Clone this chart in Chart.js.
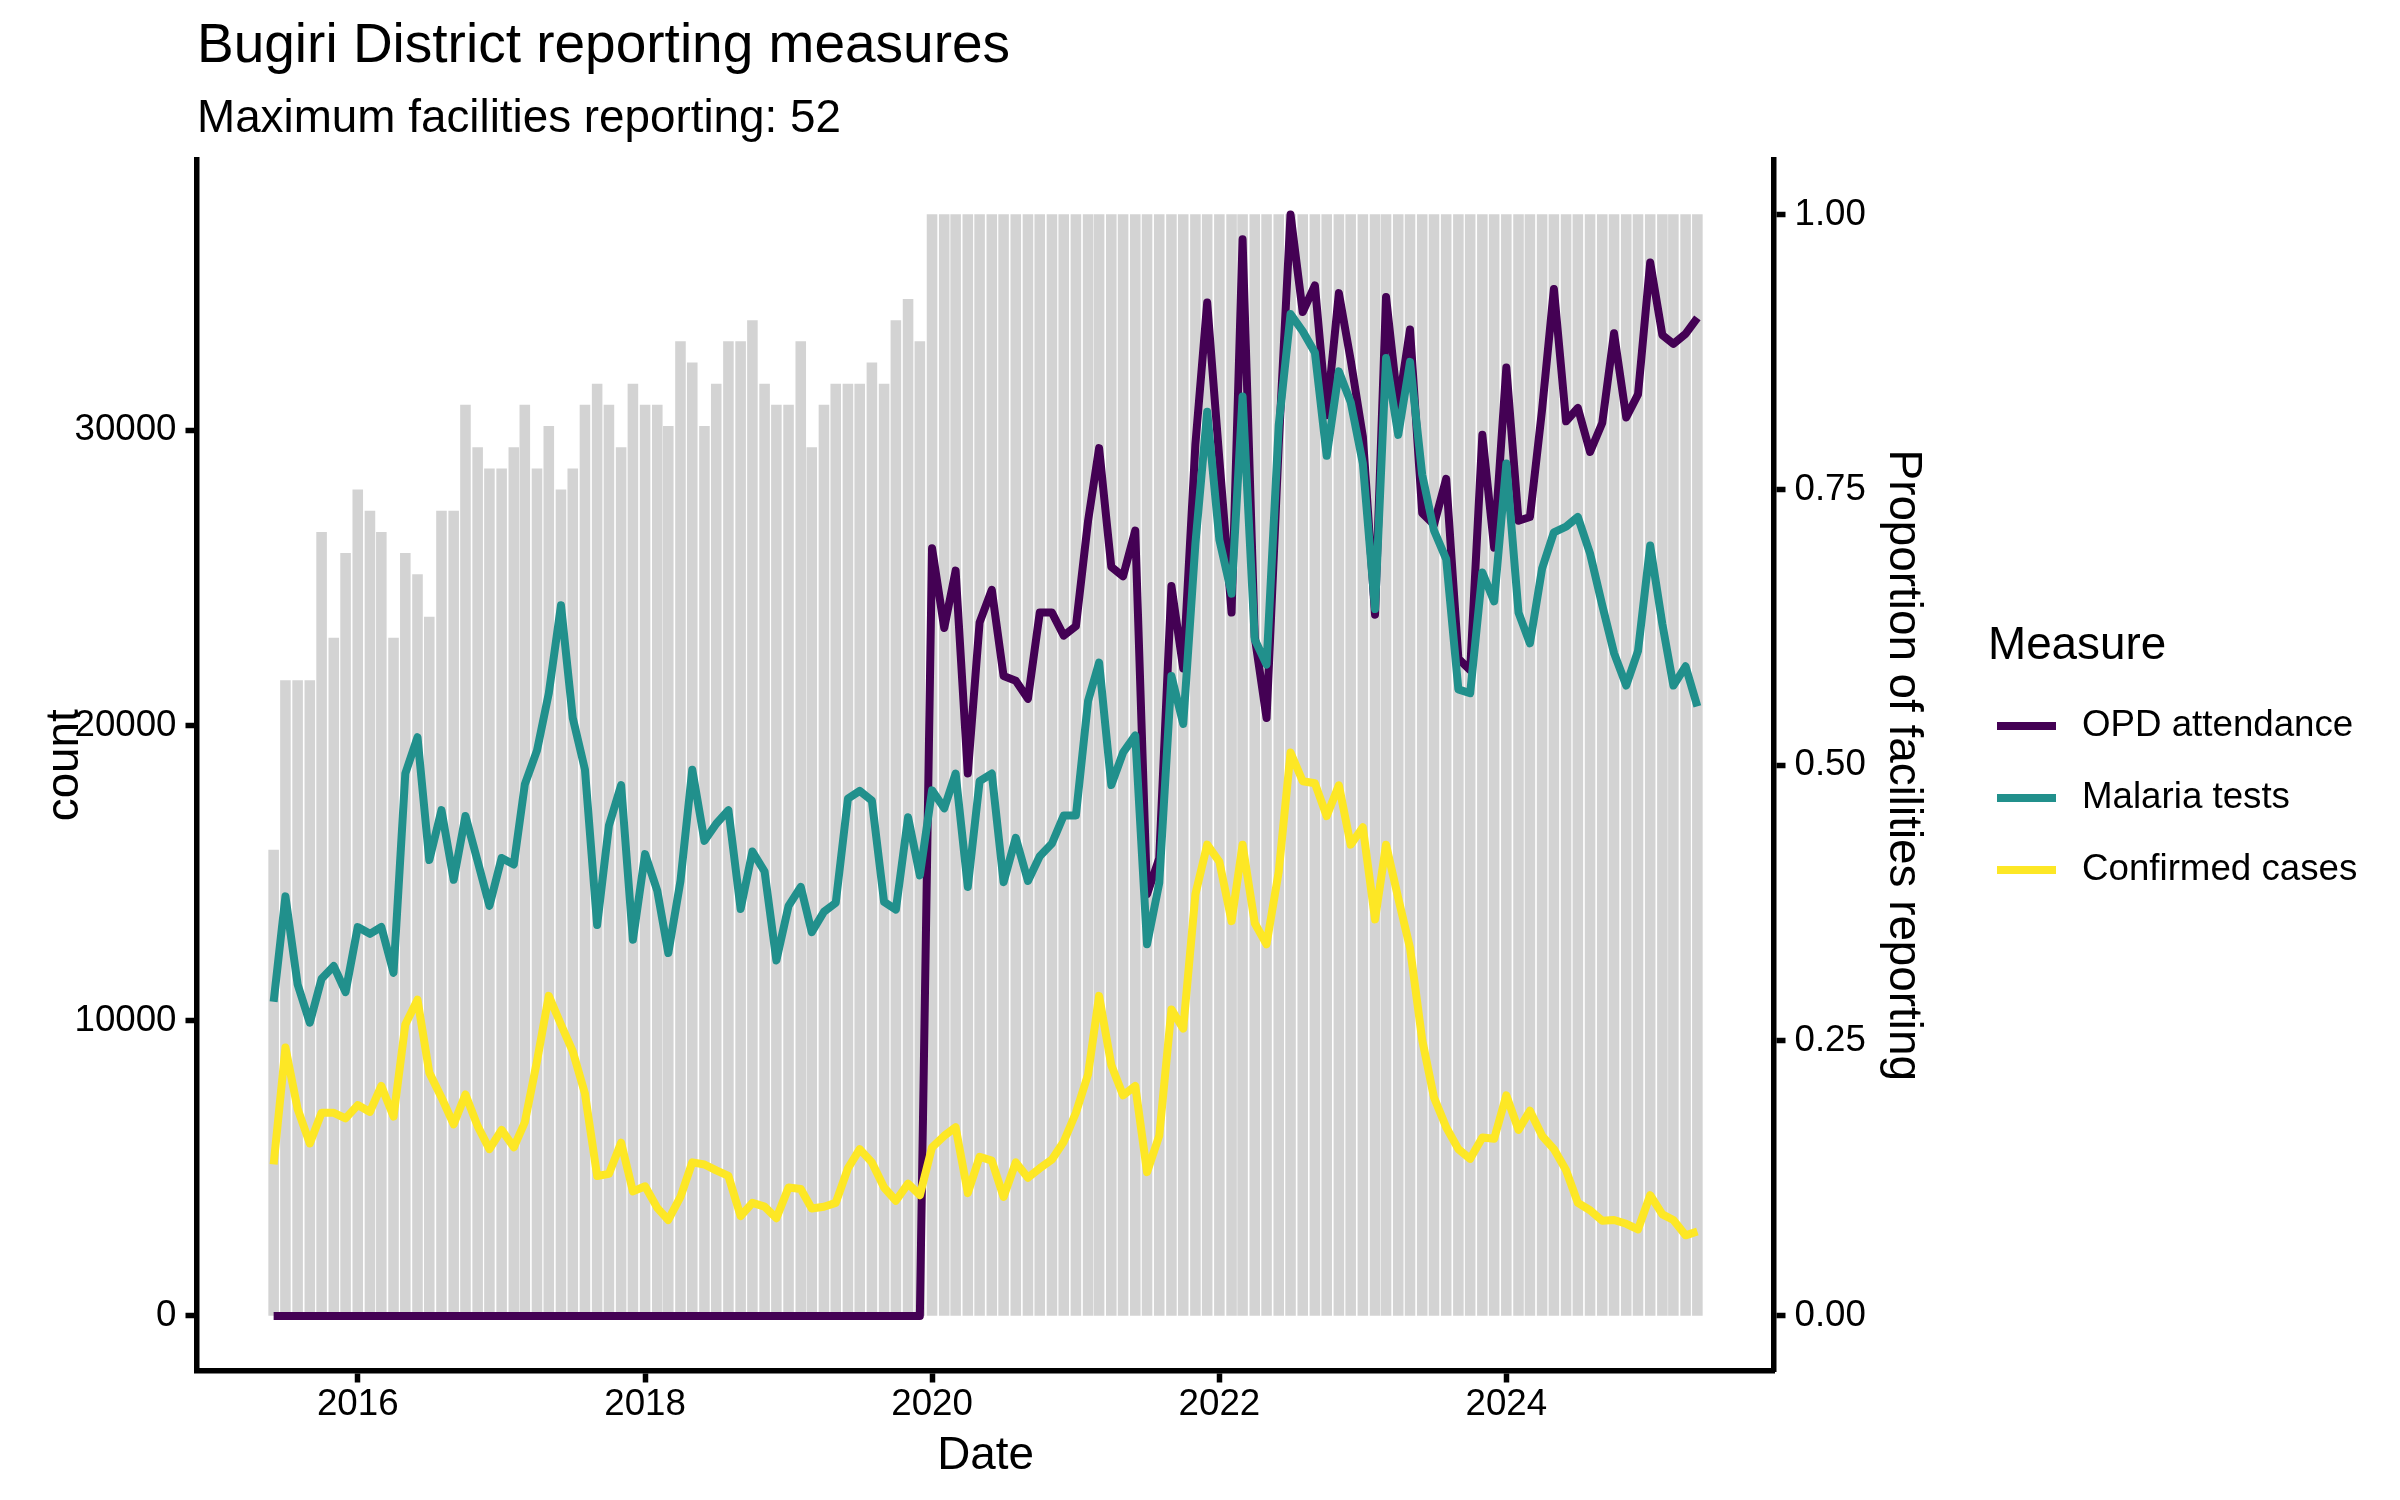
<!DOCTYPE html>
<html>
<head>
<meta charset="utf-8">
<title>Bugiri District reporting measures</title>
<script src="https://cdn.jsdelivr.net/npm/chart.js@4.4.1/dist/chart.umd.min.js"></script>
<style>
html,body{margin:0;padding:0;background:#fff;overflow:hidden}
#wrap{width:2400px;height:1500px;position:relative}
</style>
</head>
<body>
<div id="wrap"><canvas id="measure_chart"></canvas></div>
<script>
// monthly reporting, Jun 2015 - May 2025
const months = [
  '2015-06','2015-07','2015-08','2015-09','2015-10','2015-11','2015-12',
  '2016-01','2016-02','2016-03','2016-04','2016-05','2016-06','2016-07','2016-08','2016-09','2016-10','2016-11','2016-12',
  '2017-01','2017-02','2017-03','2017-04','2017-05','2017-06','2017-07','2017-08','2017-09','2017-10','2017-11','2017-12',
  '2018-01','2018-02','2018-03','2018-04','2018-05','2018-06','2018-07','2018-08','2018-09','2018-10','2018-11','2018-12',
  '2019-01','2019-02','2019-03','2019-04','2019-05','2019-06','2019-07','2019-08','2019-09','2019-10','2019-11','2019-12',
  '2020-01','2020-02','2020-03','2020-04','2020-05','2020-06','2020-07','2020-08','2020-09','2020-10','2020-11','2020-12',
  '2021-01','2021-02','2021-03','2021-04','2021-05','2021-06','2021-07','2021-08','2021-09','2021-10','2021-11','2021-12',
  '2022-01','2022-02','2022-03','2022-04','2022-05','2022-06','2022-07','2022-08','2022-09','2022-10','2022-11','2022-12',
  '2023-01','2023-02','2023-03','2023-04','2023-05','2023-06','2023-07','2023-08','2023-09','2023-10','2023-11','2023-12',
  '2024-01','2024-02','2024-03','2024-04','2024-05','2024-06','2024-07','2024-08','2024-09','2024-10','2024-11','2024-12',
  '2025-01','2025-02','2025-03','2025-04','2025-05'
];
const maxFacilities = 52;
const facilitiesReporting = [
  22,30,30,30,37,32,36,39,38,37,
  32,36,35,33,38,38,43,41,40,40,
  41,43,40,42,39,40,43,44,43,41,
  44,43,43,42,46,45,42,44,46,46,
  47,44,43,43,46,41,43,44,44,44,
  45,44,47,48,46,
  52,52,52,52,52,52,52,52,52,52,
  52,52,52,52,52,52,52,52,52,52,
  52,52,52,52,52,52,52,52,52,52,
  52,52,52,52,52,52,52,52,52,52,
  52,52,52,52,52,52,52,52,52,52,
  52,52,52,52,52,52,52,52,52,52,
  52,52,52,52,52
];
const opdAttendance = [
  0,0,0,0,0,0,0,0,0,0,
  0,0,0,0,0,0,0,0,0,0,
  0,0,0,0,0,0,0,0,0,0,
  0,0,0,0,0,0,0,0,0,0,
  0,0,0,0,0,0,0,0,0,0,
  0,0,0,0,0,
  26000,23300,25240,18370,23490,24590,21670,21510,20900,23820,
  23820,23040,23360,26930,29390,25370,25050,26600,14280,15500,
  24720,21930,29520,34320,29000,23820,36460,23000,20250,29500,
  37300,34000,34900,30500,34640,32380,29780,23750,34510,30750,
  33410,27190,26800,28350,22260,21870,29840,26020,32120,26930,
  27060,30700,34780,30300,30750,29260,30240,33280,30430,31210,
  35680,33220,32920,33260,33800
];
const malariaTests = [
  10640,14210,11230,9930,11420,11850,10970,13170,12940,13170,
  11620,18370,19600,15440,17130,14770,16930,15400,13890,15510,
  15290,18000,19150,21090,24070,20250,18500,13240,16610,17980,
  12740,15640,14400,12290,14730,18500,16090,16670,17130,13780,
  15730,15050,12040,13890,14530,13000,13690,13990,17520,17780,
  17450,14020,13760,16890,14920,17800,17190,18370,14530,18110,
  18370,14690,16190,14730,15570,16000,16950,16950,20830,22130,
  17980,19080,19660,12590,14660,21670,20050,26150,30620,26280,
  24460,31140,22910,22060,30170,33930,33350,32630,29130,31990,
  30950,28870,23940,32440,29840,32310,28490,26600,25630,21220,
  21090,25180,24200,28870,23820,22780,25310,26540,26730,27060,
  25820,24070,22450,21350,22520,26090,23430,21350,22000,20640
];
const confirmedCases = [
  5130,9090,7010,5840,6880,6880,6690,7140,6910,7790,
  6750,9870,10710,8240,7400,6490,7500,6430,5650,6300,
  5710,6560,8630,10840,9870,8960,7530,4740,4810,5870,
  4220,4390,3660,3250,4030,5200,5130,4930,4740,3380,
  3830,3700,3310,4350,4300,3640,3700,3830,5000,5650,
  5200,4350,3900,4480,4090,5710,6100,6390,4160,5390,
  5260,4030,5200,4680,5000,5300,5900,6880,8180,10840,
  8500,7470,7790,4870,6100,10380,9730,14280,15960,15380,
  13370,15960,13300,12590,15050,19080,18110,18040,16930,17970,
  15960,16550,13430,15960,14150,12460,9350,7400,6390,5650,
  5320,6040,6000,7470,6300,6950,6100,5650,4930,3830,
  3580,3220,3250,3120,2930,4090,3440,3250,2730,2860
];
const yearTicks = [2016, 2018, 2020, 2022, 2024];
const countTicks = [0, 10000, 20000, 30000];
const propTicks = [0, 0.25, 0.5, 0.75, 1];

const FONT = "'Liberation Sans', Arial, Helvetica, sans-serif";
const DAY = 86400000;
const toMs = (m) => {
  const [y, mo] = m.split('-').map(Number);
  return Date.UTC(y, mo - 1, 1);
};
const xs = months.map(toMs);

// axis limits like ggplot: bar half width + 5% expansion
const halfBar = 0.45 * 28 * DAY;
const xLo = xs[0] - halfBar;
const xHi = xs[xs.length - 1] + halfBar;
const xPad = 0.05 * (xHi - xLo);
const countMax = Math.max(...opdAttendance, ...malariaTests, ...confirmedCases);

// legend key: short line on the left of a wider transparent canvas
const keyLine = (color) => {
  const c = document.createElement('canvas');
  c.width = 93;
  c.height = 8;
  const g = c.getContext('2d');
  g.fillStyle = color;
  g.fillRect(0, 0, 59, c.height);
  return c;
};

const lineSet = (label, values, color, order) => ({
  type: 'line',
  label: label,
  data: values.map((v, i) => ({x: xs[i], y: v})),
  yAxisID: 'y',
  borderColor: color,
  backgroundColor: color,
  borderWidth: 8,
  borderJoinStyle: 'round',
  pointRadius: 0,
  pointHoverRadius: 0,
  pointStyle: keyLine(color),
  tension: 0,
  fill: false,
  order: order
});

const axisGrid = {display: true, drawOnChartArea: false, drawTicks: true, tickLength: 11.5, tickWidth: 5.5, tickColor: '#000', offset: false};
const axisBorder = {display: true, color: '#000', width: 5.5};
const tickFont = {family: FONT, size: 36.7, lineHeight: 1};
const titleFont = {family: FONT, size: 45.8, lineHeight: 1};

Chart.defaults.font.family = FONT;
Chart.defaults.color = '#000';

const ctx = document.getElementById('measure_chart').getContext('2d');
const measure_chart = new Chart(ctx, {
  type: 'bar',
  data: {
    datasets: [
      {
        type: 'bar',
        label: 'Facilities reporting',
        data: facilitiesReporting.map((n, i) => ({x: xs[i], y: n / maxFacilities})),
        yAxisID: 'y1',
        backgroundColor: '#d3d3d3',
        borderWidth: 0,
        barThickness: 9.9,
        order: 4
      },
      lineSet('OPD attendance', opdAttendance, '#440154', 3),
      lineSet('Malaria tests', malariaTests, '#21908c', 2),
      lineSet('Confirmed cases', confirmedCases, '#fde725', 1)
    ]
  },
  options: {
    responsive: true,
    maintainAspectRatio: false,
    devicePixelRatio: 1,
    animation: false,
    events: [],
    layout: {padding: {left: 0, top: 0, right: 40, bottom: 0}},
    scales: {
      x: {
        type: 'linear',
        position: 'bottom',
        offset: false,
        min: xLo - xPad,
        max: xHi + xPad,
        afterBuildTicks: (s) => { s.ticks = yearTicks.map(y => ({value: Date.UTC(y, 0, 1)})); },
        afterFit: (s) => { s.height = 129; },
        ticks: {
          autoSkip: false, maxRotation: 0, padding: 4, font: tickFont, color: '#000',
          callback: (v) => String(new Date(v).getUTCFullYear())
        },
        grid: axisGrid,
        border: axisBorder,
        title: {display: true, text: 'Date', font: titleFont, color: '#000', padding: {top: 0, bottom: 21}}
      },
      y: {
        type: 'linear',
        position: 'left',
        min: -0.05 * countMax,
        max: 1.05 * countMax,
        afterBuildTicks: (s) => { s.ticks = countTicks.map(v => ({value: v})); },
        afterFit: (s) => { s.width = 197; },
        ticks: {padding: 9, font: tickFont, color: '#000', callback: (v) => String(v)},
        grid: axisGrid,
        border: axisBorder,
        title: {display: true, text: 'count', font: titleFont, color: '#000', padding: {top: 42, bottom: 0}}
      },
      y1: {
        type: 'linear',
        position: 'right',
        min: -0.05,
        max: 1.05,
        afterBuildTicks: (s) => { s.ticks = propTicks.map(v => ({value: v})); },
        afterFit: (s) => { s.width = 214; },
        ticks: {padding: 9, font: tickFont, color: '#000', callback: (v) => Number(v).toFixed(2)},
        grid: axisGrid,
        border: axisBorder,
        title: {display: true, text: 'Proportion of facilities reporting', font: titleFont, color: '#000', padding: {top: 62.1, bottom: 0}}
      }
    },
    plugins: {
      title: {
        display: true,
        text: 'Bugiri District reporting measures',
        align: 'start',
        fullSize: false,
        color: '#000',
        font: {family: FONT, size: 55, weight: 'normal', lineHeight: 1},
        padding: {top: 19.5, bottom: 0}
      },
      subtitle: {
        display: true,
        text: 'Maximum facilities reporting: ' + maxFacilities,
        align: 'start',
        fullSize: false,
        color: '#000',
        font: {family: FONT, size: 45.8, weight: 'normal', lineHeight: 1},
        padding: {top: 22, bottom: 17.2}
      },
      legend: {
        position: 'right',
        align: 'center',
        fullSize: false,
        maxWidth: 372,
        title: {
          display: true,
          text: 'Measure',
          position: 'start',
          color: '#000',
          font: titleFont,
          padding: {top: 16, bottom: 3.1}
        },
        labels: {
          usePointStyle: true,
          pointStyleWidth: 40.35,
          padding: 35.3,
          color: '#000',
          font: {family: FONT, size: 36.7},
          filter: (item) => item.datasetIndex > 0,
          sort: (a, b) => a.datasetIndex - b.datasetIndex
        }
      },
      tooltip: {enabled: false}
    }
  }
});
</script>
</body>
</html>
